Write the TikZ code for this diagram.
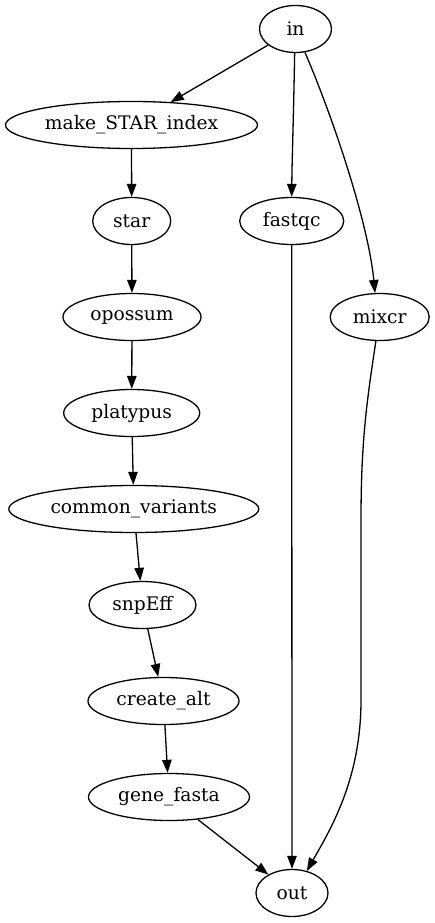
\documentclass[tikz,border=0pt]{standalone}
\usepackage{fontspec}
\setmainfont{DejaVu Serif}
\usetikzlibrary{arrows.meta,shapes.geometric}
\tikzset{
  gnode/.style={ellipse,draw,line width=1.3pt,inner sep=0pt,minimum height=47pt,font=\fontsize{18.67}{22}\selectfont},
  gedge/.style={line width=1.3pt,-{Triangle[length=13pt,width=9.5pt]}}
}
\begin{document}
\begin{tikzpicture}[x=1pt,y=-1pt]
\useasboundingbox (0,0) rectangle (435,923);
\node[gnode,minimum width=72pt] (nin) at (295.5,29) {in};
\node[gnode,minimum width=252pt] (make) at (131.5,125) {make\_STAR\_index};
\node[gnode,minimum width=78pt] (star) at (131.7,221) {star};
\node[gnode,minimum width=104pt] (fastqc) at (291.7,221) {fastqc};
\node[gnode,minimum width=138pt] (opossum) at (132,317) {opossum};
\node[gnode,minimum width=99pt] (mixcr) at (379.7,317) {mixcr};
\node[gnode,minimum width=136pt] (platypus) at (131.7,413) {platypus};
\node[gnode,minimum width=250pt] (common) at (133.8,509) {common\_variants};
\node[gnode,minimum width=107pt] (snpeff) at (142.5,605) {snpEff};
\node[gnode,minimum width=151pt] (create) at (163.5,701) {create\_alt};
\node[gnode,minimum width=161pt] (gene) at (169,797) {gene\_fasta};
\node[gnode,minimum width=72pt] (nout) at (292,893) {out};

\draw[gedge] (nin) -- (make);
\draw[gedge] (nin.-92) .. controls (293.5,120) and (292,160) .. (fastqc.north);
\draw[gedge] (nin.-68) .. controls (330,110) and (368,220) .. (mixcr.101);
\draw[gedge] (make) -- (star);
\draw[gedge] (star) -- (opossum);
\draw[gedge] (opossum) -- (platypus);
\draw[gedge] (platypus) -- (common);
\draw[gedge] (common) -- (snpeff);
\draw[gedge] (snpeff) -- (create);
\draw[gedge] (create) -- (gene);
\draw[gedge] (gene) -- (nout);
\draw[gedge] (fastqc) -- (nout);
\draw[gedge] (mixcr.-99) .. controls (367,400) and (361,440) .. (361,520) -- (361,700) .. controls (361,780) and (330,830) .. (nout.56);
\end{tikzpicture}
\end{document}
